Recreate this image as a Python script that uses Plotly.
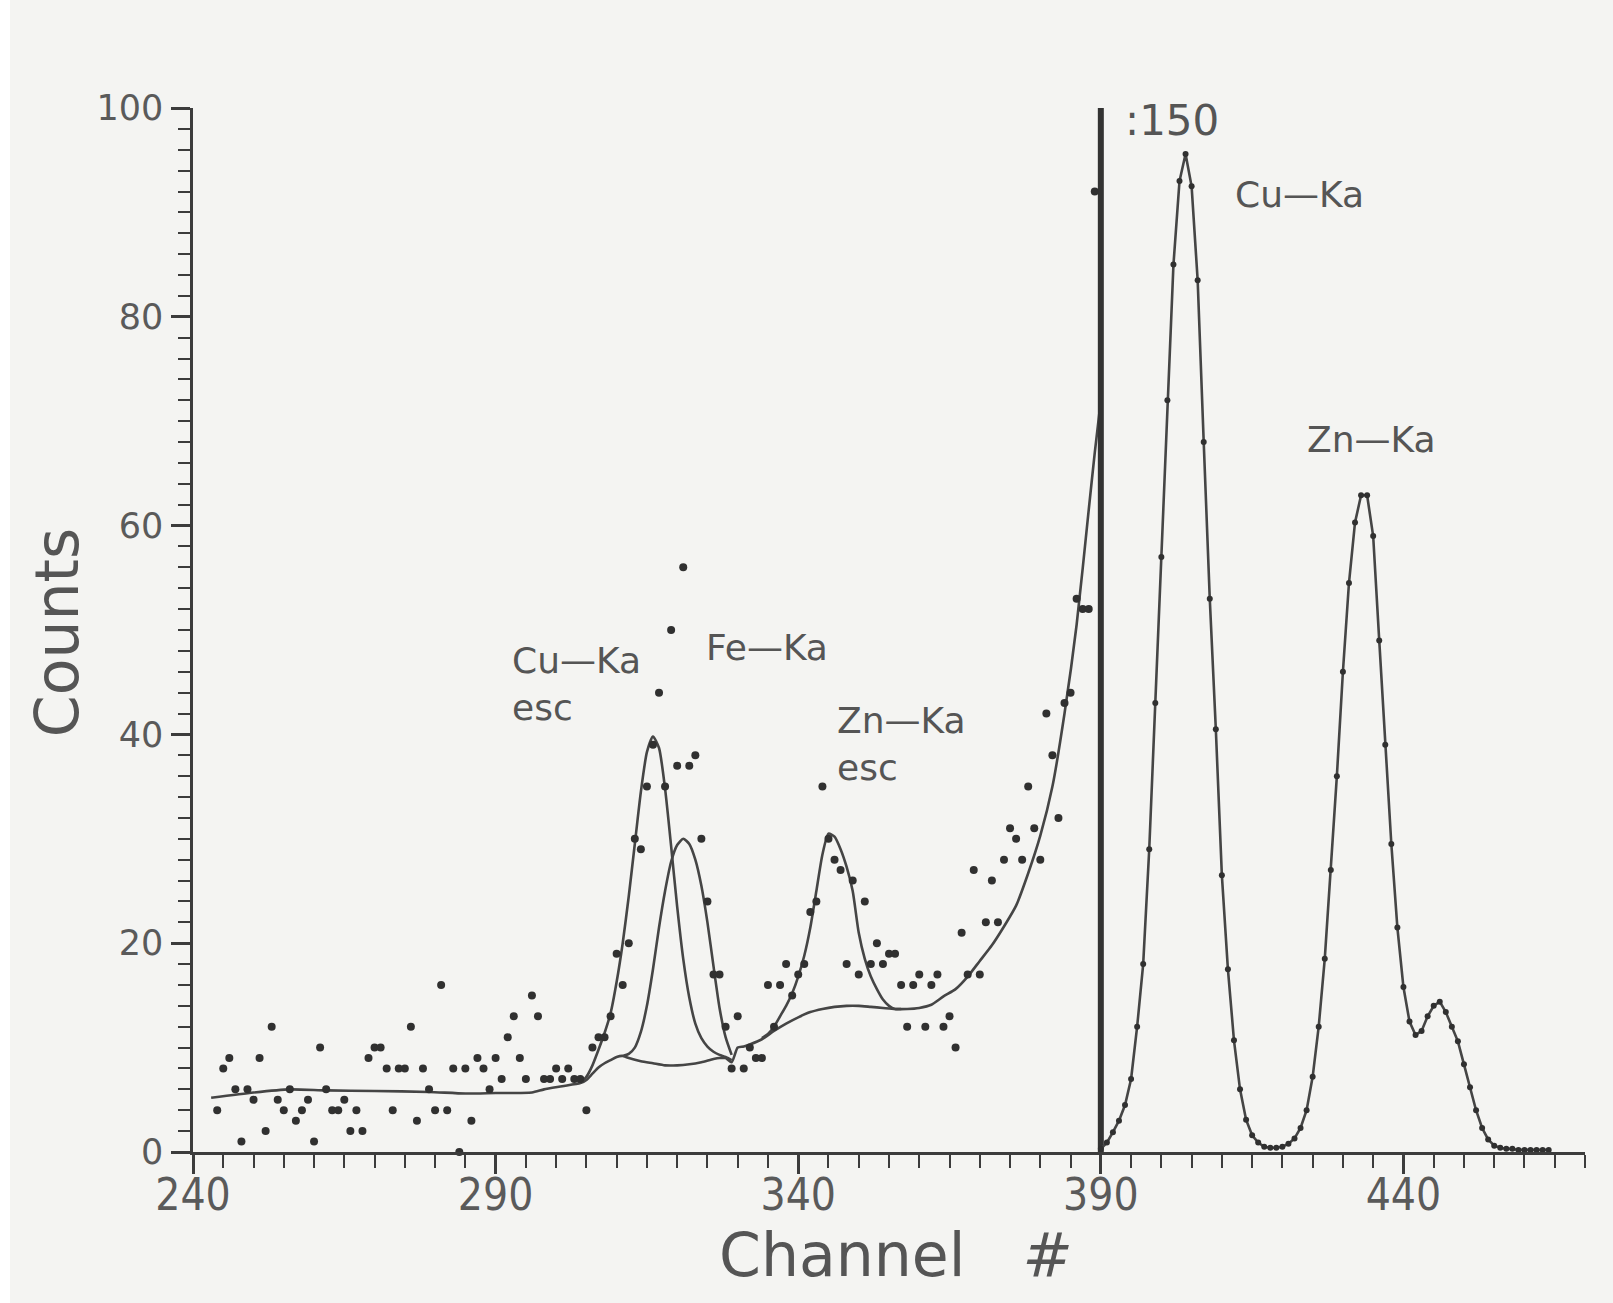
import plotly.graph_objects as go

# ---------------------------------------------------------------------------
# Spectrum data
# ---------------------------------------------------------------------------
# Measured counts, channels 244-389 (drawn unscaled)
low_channels = list(range(244, 390))
low_counts = [
    4, 8, 9, 6, 1, 6, 5, 9, 2, 12,          # 244-253
    5, 4, 6, 3, 4, 5, 1, 10, 6, 4,          # 254-263
    4, 5, 2, 4, 2, 9, 10, 10, 8, 4,         # 264-273
    8, 8, 12, 3, 8, 6, 4, 16, 4, 8,         # 274-283
    0, 8, 3, 9, 8, 6, 9, 7, 11, 13,         # 284-293
    9, 7, 15, 13, 7, 7, 8, 7, 8, 7,         # 294-303
    7, 4, 10, 11, 11, 13, 19, 16, 20, 30,   # 304-313
    29, 35, 39, 44, 35, 50, 37, 56, 37, 38, # 314-323
    30, 24, 17, 17, 12, 8, 13, 8, 10, 9,    # 324-333
    9, 16, 12, 16, 18, 15, 17, 18, 23, 24,  # 334-343
    35, 30, 28, 27, 18, 26, 17, 24, 18, 20, # 344-353
    18, 19, 19, 16, 12, 16, 17, 12, 16, 17, # 354-363
    12, 13, 10, 21, 17, 27, 17, 22, 26, 22, # 364-373
    28, 31, 30, 28, 35, 31, 28, 42, 38, 32, # 374-383
    43, 44, 53, 52, 52, 92,                 # 384-389
]

# Counts divided by 150, channels 390-464 (Cu-Ka and Zn-Ka region)
high_channels = list(range(390, 465))
high_counts_div150 = [
    0.3, 0.9, 1.9, 3.0, 4.5, 7.0, 12.0, 18.0, 29.0, 43.0,        # 390-399
    57.0, 72.0, 85.0, 93.0, 95.6, 92.5, 83.5, 68.0, 53.0, 40.5,  # 400-409
    26.5, 17.5, 10.7, 6.0, 3.1, 1.6, 0.9, 0.5, 0.4, 0.4,         # 410-419
    0.5, 0.8, 1.3, 2.3, 4.0, 7.2, 12.0, 18.5, 27.0, 36.0,        # 420-429
    46.0, 54.5, 60.3, 62.9, 62.9, 59.0, 49.0, 39.0, 29.5, 21.5,  # 430-439
    15.8, 12.5, 11.2, 11.6, 13.0, 14.0, 14.4, 13.4, 12.0, 10.6,  # 440-449
    8.4, 6.2, 4.0, 2.3, 1.2, 0.6, 0.4, 0.3, 0.3, 0.2,            # 450-459
    0.2, 0.2, 0.2, 0.2, 0.2,                                     # 460-464
]

# Fitted background
bg_channels = [243, 250, 256, 262, 270, 279, 285, 290, 296, 298, 301, 304,
               305, 306, 307, 308, 309, 310, 311, 312, 314, 316, 318, 320,
               322, 324, 326, 327, 328, 329, 330, 331, 332, 334, 336, 338,
               340, 342, 344, 346, 348, 350, 352, 354, 356, 358, 360, 362,
               364, 366, 368, 370, 372, 374, 376, 378, 380, 382, 384, 386,
               388, 389, 390]
bg_counts = [5.2, 5.7, 6.0, 5.9, 5.85, 5.75, 5.6, 5.65, 5.7, 6.0, 6.3, 6.6,
             6.9, 7.5, 8.1, 8.5, 8.8, 9.1, 9.2, 9.0, 8.7, 8.5, 8.3, 8.3,
             8.4, 8.6, 8.9, 9.0, 9.0, 8.6, 10.0, 10.1, 10.3, 10.8, 11.6, 12.3,
             12.9, 13.4, 13.7, 13.9, 14.0, 14.0, 13.9, 13.8, 13.7, 13.7, 13.8, 14.1,
             14.9, 15.6, 16.8, 18.3, 19.8, 21.6, 23.6, 26.7, 30.3, 35.0, 42.0, 50.5,
             61.5, 67.0, 72.0]

# Background + Cu-Ka escape peak
cu_esc_channels = list(range(304, 330))
cu_esc_counts = [6.6, 7.2, 8.3, 9.8, 11.4, 13.3, 16.3, 20.0, 24.5, 29.5,
                 34.5, 38.3, 39.8, 38.7, 34.8, 29.3, 23.5, 18.5, 14.8, 12.3,
                 10.9, 10.1, 9.6, 9.3, 9.1, 8.8]

# Background + Fe-Ka peak
fe_channels = list(range(311, 330))
fe_counts = [9.2, 9.4, 10.0, 11.5, 14.0, 17.5, 21.5, 25.0, 27.8, 29.4,
             30.0, 29.5, 28.0, 25.5, 22.0, 17.8, 13.8, 11.0, 9.3]

# Background + Zn-Ka escape peak
zn_esc_channels = list(range(334, 358))
zn_esc_counts = [10.9, 11.3, 12.0, 13.0, 14.0, 15.2, 16.8, 18.8, 21.5, 25.0,
                 28.5, 30.5, 30.2, 29.0, 27.3, 25.0, 21.0, 18.5, 16.8, 15.6,
                 14.6, 14.0, 13.7, 13.7]

# Scale change marker
split_channel = 390
split_label = ":150"

# Axis settings
x_range = [240, 470]
y_range = [0, 100]
x_major, x_minor = 50, 5
y_major, y_minor = 20, 2

# Peak labels: (text, channel, counts)
peak_labels = [
    ("Cu\u2014Ka<br>esc", 292.4, 44.8),
    ("Fe\u2014Ka", 324.4, 48.3),
    ("Zn\u2014Ka<br>esc", 346.0, 39.1),
    ("Cu\u2014Ka", 411.9, 91.7),
    ("Zn\u2014Ka", 423.8, 68.2),
]

# ---------------------------------------------------------------------------
INK = "#3c3c3c"
TEXT = "#555555"
PAPER = "#f4f4f2"
FONT = "DejaVu Sans"
NARROW = "Liberation Sans Narrow, DejaVu Sans Condensed, Arial Narrow, DejaVu Sans"

fig = go.Figure()

fit_line = dict(color="#454545", width=2.6, shape="spline", smoothing=0.6)
for xs, ys in [(bg_channels, bg_counts),
               (cu_esc_channels, cu_esc_counts),
               (fe_channels, fe_counts),
               (zn_esc_channels, zn_esc_counts)]:
    fig.add_trace(go.Scatter(x=xs, y=ys, mode="lines", line=fit_line,
                             hoverinfo="skip", showlegend=False))

# scale-change bar
fig.add_trace(go.Scatter(x=[split_channel, split_channel], y=y_range,
                         mode="lines", line=dict(color="#333333", width=6),
                         hoverinfo="skip", showlegend=False))

# measured points, unscaled part
fig.add_trace(go.Scatter(x=low_channels, y=low_counts, mode="markers",
                         marker=dict(color="#303030", size=8),
                         cliponaxis=False, showlegend=False))

# measured points, divided by 150
fig.add_trace(go.Scatter(x=high_channels, y=high_counts_div150,
                         mode="lines+markers",
                         line=dict(color="#454545", width=2.6),
                         marker=dict(color="#303030", size=6),
                         cliponaxis=False, showlegend=False))

annotations = []
for text, ch, cnt in peak_labels:
    annotations.append(dict(x=ch, y=cnt, xref="x", yref="y", text=text,
                            showarrow=False, xanchor="left", yanchor="middle",
                            align="left",
                            font=dict(family=FONT, size=36, color=TEXT)))
annotations.append(dict(x=393.6, y=98.8, xref="x", yref="y", text=split_label,
                        showarrow=False, xanchor="left", yanchor="middle",
                        font=dict(family=FONT, size=42, color=TEXT)))
# axis titles
annotations.append(dict(x=-0.0977, y=0.497, xref="paper", yref="paper",
                        text="Counts", textangle=-90, showarrow=False,
                        xanchor="center", yanchor="middle",
                        font=dict(family=FONT, size=60, color=TEXT)))
annotations.append(dict(x=0.505, y=-0.099, xref="paper", yref="paper",
                        text="Channel\u00a0\u00a0\u00a0<i>#</i>", showarrow=False,
                        xanchor="center", yanchor="middle",
                        font=dict(family=FONT, size=60, color=TEXT)))

axis_common = dict(showline=True, linecolor=INK, linewidth=2.5,
                   showgrid=False, zeroline=False, ticks="outside",
                   tickcolor=INK, tickwidth=2.5, ticklen=19)

fig.update_layout(
    width=1613, height=1303, autosize=False,
    margin=dict(l=193, r=28, t=108, b=151),
    paper_bgcolor=PAPER, plot_bgcolor=PAPER,
    xaxis=dict(range=x_range, tickmode="linear", tick0=x_range[0],
               dtick=x_major, ticklabelstandoff=-17,
               tickfont=dict(family=NARROW, size=44, color="#5a5a5a"),
               minor=dict(dtick=x_minor, tick0=x_range[0], ticks="outside",
                          ticklen=13, tickwidth=2.2, tickcolor=INK),
               **axis_common),
    yaxis=dict(range=y_range, tickmode="linear", tick0=0, dtick=y_major,
               ticklabelstandoff=1,
               tickfont=dict(family=FONT, size=35, color="#5a5a5a"),
               minor=dict(dtick=y_minor, tick0=0, ticks="outside",
                          ticklen=12, tickwidth=2.2, tickcolor=INK),
               **axis_common),
    annotations=annotations,
    shapes=[dict(type="rect", xref="paper", yref="paper",
                 x0=-0.1387, x1=-0.1315, y0=-0.145, y1=1.104,
                 fillcolor="#ffffff", line=dict(width=0), layer="below")],
)

fig.write_html("out.html")
